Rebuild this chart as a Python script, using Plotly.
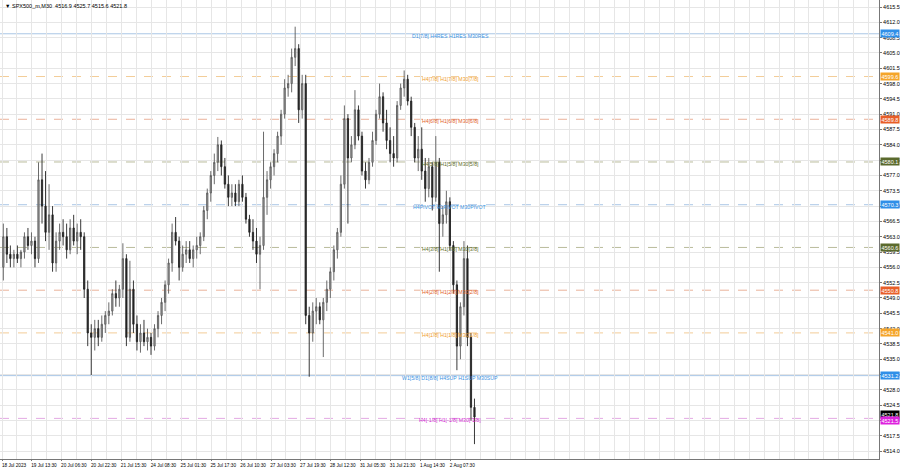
import plotly.graph_objects as go

# ---- data (2-hour bars) ----
opens = [4556,4563,4559,4558,4559,4558,4559.5,4563,4561,4562,4558,4576,4570,4564,4568,4557,4562,4564,4563,4560,
         4565,4562,4564,4563,4551,4541,4540,4542,4540,4543,4545,4546,4550,4549,4551,4558,4540,4551,4543,4539,
         4541,4539,4540,4538,4542,4545,4548,4552,4557,4564,4562,4556,4559,4560,4558,4560,4561,4563,4569,4573,
         4577,4580,4584,4579,4575,4572,4573,4571,4575,4572,4567,4564,4562,4559,4561,4572,4576,4579,4582,4586,
         4591,4597,4598,4604,4606,4592,4598,4545,4541,4546,4547,4544,4548,4551,4555,4560,4564,4575,4590,4581,
         4584,4592,4586,4578,4576,4580,4585,4591,4595,4589,4585,4582,4581,4593,4597,4599,4594,4588,4581,4583,
         4578,4574,4579,4572,4580,4566,4568,4571,4561,4552,4538,4547,4558,4540,4524]
highs = [4566,4565,4561,4560,4561,4560,4564,4565,4564,4563,4580,4582,4578,4575,4570,4564,4566,4567,4566,4567,
         4568,4566,4567,4564,4553,4543,4544,4544,4545,4546,4548,4551,4553,4552,4561.5,4559,4557.5,4553,4545,4543,
         4544,4542,4541,4543,4546,4549,4553,4558,4566,4567.5,4563,4561,4562,4562,4561,4563,4564,4570,4574,4578,
         4582,4585.8,4585,4581,4577,4575,4575,4576,4577,4573,4568,4567,4565,4563,4587,4578,4580,4583,4587,4592,
         4599,4600,4606,4611,4607,4600,4600,4547,4548,4549,4548,4549,4553,4556,4561,4565,4577,4593,4591,4586,
         4596.5,4593,4587,4580,4581,4587,4592,4598,4596,4592,4588,4586,4594,4598,4601,4600,4595,4589,4586,4588,
         4581,4581,4580,4586,4581,4570,4573.5,4572,4562,4553,4548,4562,4561,4541,4526]
lows = [4553,4557,4556,4556,4557,4556,4558,4560,4559,4556,4557,4566,4562,4560,4555,4555,4560,4561,4558,4559,
        4561,4559,4560,4549,4538,4531.4,4537,4538,4539,4541,4543,4545,4547,4547,4549,4538,4539,4541,4537,4536.5,
        4538,4537,4536,4537,4540,4543,4546,4550,4555,4561,4553,4555,4557,4557,4556,4558,4559,4562,4567,4571,
        4575,4578,4577,4574,4570,4570,4570,4570,4571,4566,4563,4560,4557,4551,4560,4568,4574,4577,4580,4584,
        4590,4595,4596,4602,4589,4590,4543,4531,4539,4543,4543,4535.5,4546,4549,4553,4558,4563,4574,4566,4580,
        4583,4585,4577,4574,4575,4579,4584,4590,4587,4583,4580,4579,4580,4592,4595,4593,4586,4580,4578,4576,
        4571,4572,4569,4571,4555,4563,4566,4560,4550,4532.5,4535,4545,4538,4521,4515.6]
closes = [4563,4559,4558,4559,4558,4559.5,4563,4561,4562,4558,4576,4570,4564,4568,4557,4562,4564,4563,4560,4565,
          4562,4564,4563,4551,4541,4540,4542,4540,4543,4545,4546,4550,4549,4551,4558,4540,4551,4543,4539,4541,
          4539,4540,4538,4542,4545,4548,4552,4557,4564,4562,4556,4559,4560,4558,4560,4561,4563,4569,4573,4577,
          4580,4584,4579,4575,4572,4573,4571,4575,4572,4567,4564,4562,4559,4561,4572,4576,4579,4582,4586,4591,
          4597,4598,4604,4606,4592,4598,4545,4541,4546,4547,4544,4548,4551,4555,4560,4564,4575,4590,4581,4584,
          4592,4586,4578,4576,4580,4585,4591,4595,4589,4585,4582,4581,4593,4597,4599,4594,4588,4581,4583,4578,
          4574,4579,4572,4580,4566,4568,4571,4561,4552,4538,4547,4558,4540,4524,4521.8]
bar_index = [4 * k + 1.5 for k in range(len(closes))]

tick_bars = [0, 34, 68, 102, 136, 170, 204, 238, 272, 306, 340, 374, 408, 442, 476, 510]
tick_labels = ["18 Jul 2023", "19 Jul 13:30", "20 Jul 06:30", "20 Jul 22:30", "21 Jul 15:30",
               "24 Jul 08:30", "25 Jul 01:30", "25 Jul 17:30", "26 Jul 10:30", "27 Jul 03:30",
               "27 Jul 19:30", "28 Jul 12:30", "31 Jul 05:30", "31 Jul 21:30", "1 Aug 14:30", "2 Aug 07:30"]
price_ticks = [4514.0 + 3.5 * i for i in range(30)]

level_prices = [4609.38, 4599.61, 4589.84, 4580.08, 4570.31, 4560.55, 4550.78, 4541.02, 4531.25, 4521.48]
level_names = ["D1[7/8] H4RES H1RES M30RES", "H4[7/8] H1[7/8] M30[7/8]", "H4[6/8] H1[6/8] M30[6/8]",
               "H4[5/8] H1[5/8] M30[5/8]", "H4PIVOT H1PIVOT M30PIVOT", "H4[3/8] H1[3/8] M30[3/8]",
               "H4[2/8] H1[2/8] M30[2/8]", "H4[1/8] H1[1/8] M30[1/8]", "W1[5/8] D1[8/8] H4SUP H1SUP M30SUP",
               "H4[-1/8] H1[-1/8] M30[-1/8]"]
level_kinds = ["blue", "orange", "red", "olive", "blue", "olive", "red", "orange", "blue", "magenta"]
level_dash = ["solid", "dash", "dash", "dash", "dash", "dash", "dash", "dash", "solid", "dash"]

last_price = 4521.8
title_text = "SPX500_m,M30  4516.9 4525.7 4515.6 4521.8"

# ---- styles ----
text_col = {"blue": "#3b93e3", "orange": "#f0a030", "red": "#e2612c", "olive": "#5e6d2c", "magenta": "#d41fd4"}
line_col = {"blue": "#a9c6e6", "orange": "#f3cd98", "red": "#eab29a", "olive": "#b9bc9c", "magenta": "#e3a9e3"}
box_col = {"blue": "#2f8fe8", "orange": "#f5a52a", "red": "#e85e28", "olive": "#5b6a2d", "magenta": "#de22de"}
FONT = "Liberation Sans"
FS = 5.5
FSX = 4.7

fig = go.Figure()
fig.add_trace(go.Candlestick(
    x=bar_index, open=opens, high=highs, low=lows, close=closes,
    increasing=dict(line=dict(color="#5a5a5a", width=0.9), fillcolor="#a8a8a8"),
    decreasing=dict(line=dict(color="#222222", width=0.9), fillcolor="#222222"),
    whiskerwidth=0, showlegend=False, hoverinfo="skip"))

X0, X1 = -2.3, 997.7
for p, name, kind, dash in zip(level_prices, level_names, level_kinds, level_dash):
    fig.add_shape(type="line", xref="x", yref="y", x0=X0, x1=X1, y0=p, y1=p,
                  line=dict(color=line_col[kind], width=1, dash=dash), layer="below")
    fig.add_annotation(x=0.512, xref="paper", y=p, yref="y", text=name, showarrow=False,
                       xanchor="center", yanchor="middle", yshift=-2,
                       font=dict(family=FONT, size=5.2, color=text_col[kind]))
    if kind != "magenta":
        fig.add_annotation(x=1.0, xref="paper", y=p, yref="y", text=f"{p:.1f}", showarrow=False,
                           xanchor="left", yanchor="middle", xshift=1,
                           bgcolor=box_col[kind], borderpad=0.5,
                           font=dict(family=FONT, size=FS, color="white"))

fig.add_annotation(x=1.0, xref="paper", y=last_price, yref="y", text=f"{last_price:.1f}",
                   showarrow=False, xanchor="left", yanchor="middle", xshift=1, yshift=2.5,
                   bgcolor="#000000", borderpad=0.5, font=dict(family=FONT, size=FS, color="white"))
fig.add_annotation(x=1.0, xref="paper", y=level_prices[-1], yref="y", text=f"{level_prices[-1]:.1f}",
                   showarrow=False, xanchor="left", yanchor="middle", xshift=1, yshift=-2,
                   bgcolor=box_col["magenta"], borderpad=0.5, font=dict(family=FONT, size=FS, color="white"))

fig.add_annotation(x=0.003, xref="paper", y=1.0, yref="paper", yshift=-1, text="▼ " + title_text,
                   showarrow=False, xanchor="left", yanchor="top",
                   font=dict(family=FONT, size=FS, color="#000000"))

fig.update_layout(
    width=900, height=468, template="none",
    margin=dict(l=0, r=21, t=0, b=9, pad=0),
    paper_bgcolor="white", plot_bgcolor="white",
    font=dict(family=FONT, size=FS, color="#000000"),
    showlegend=False, boxgap=0.5,
    xaxis=dict(range=[X0, X1], tickmode="array", tickvals=tick_bars, ticktext=tick_labels,
               tickangle=0,
               showgrid=True, gridcolor="#e6e6e6", gridwidth=1, zeroline=False,
               minor=dict(tickmode="linear", tick0=0, dtick=17, showgrid=True, gridcolor="#e6e6e6"),
               ticks="outside", ticklen=1, tickcolor="#777", ticklabelshift=12, ticklabelstandoff=0,
               showline=True, linecolor="#777", linewidth=1, mirror=True,
               rangeslider=dict(visible=False), automargin=False,
               tickfont=dict(family=FONT, size=FSX, color="#000")),
    yaxis=dict(range=[4512.2, 4617.1], side="right", tickmode="array", tickvals=price_ticks,
               ticktext=[f"{v:.1f}" for v in price_ticks],
               showgrid=True, gridcolor="#e6e6e6", gridwidth=1, zeroline=False,
               ticks="outside", ticklen=2, tickcolor="#777",
               showline=True, linecolor="#777", linewidth=1, mirror=True, automargin=False,
               tickfont=dict(family=FONT, size=FS, color="#000")),
)

fig.write_html("out.html", config={"displayModeBar": False},
               post_script="document.body.style.margin='0';document.body.style.padding='0';"
                           "document.body.style.overflow='hidden';")
